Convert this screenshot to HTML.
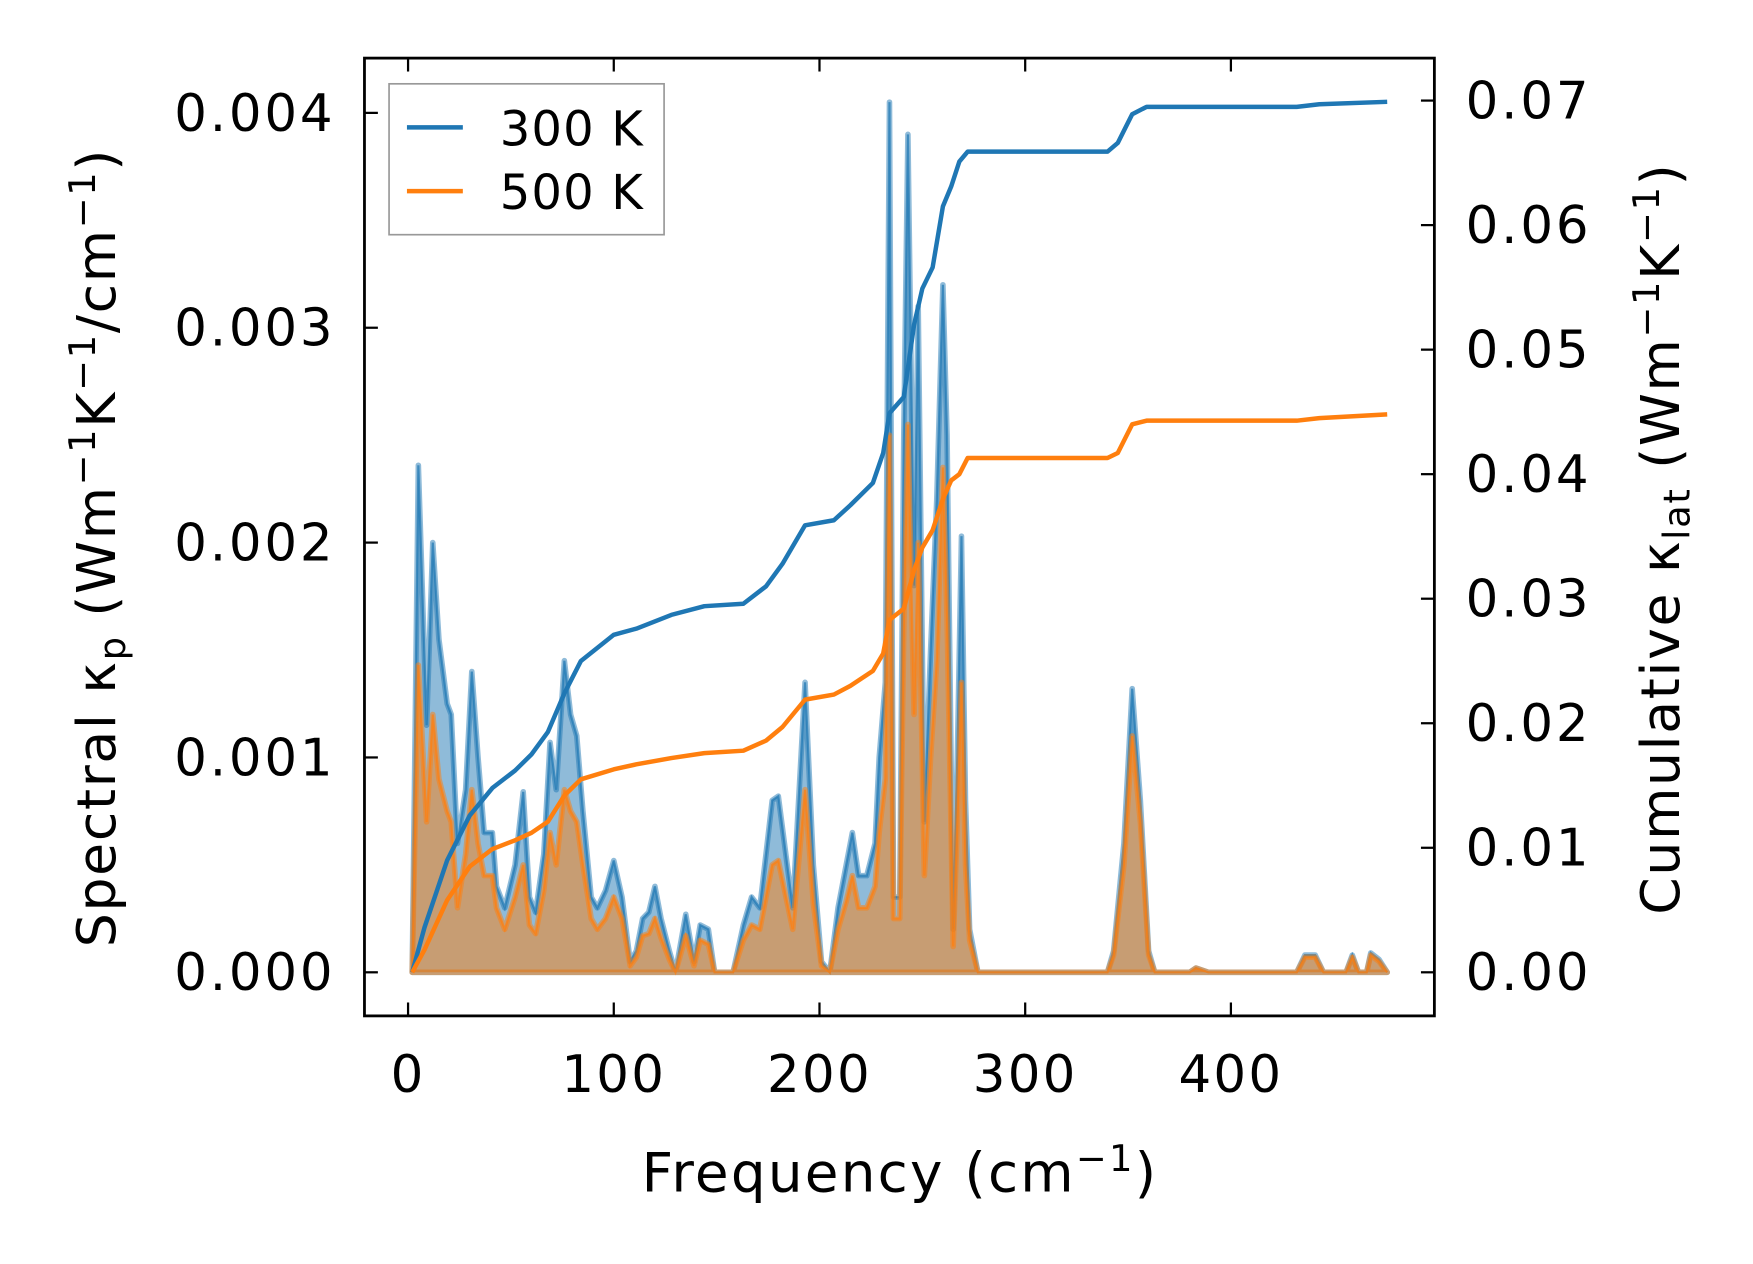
<!DOCTYPE html>
<html><head><meta charset="utf-8"><style>
html,body{margin:0;padding:0;background:#fff;}
svg{display:block;font-family:"DejaVu Sans","Liberation Sans",sans-serif;}
</style></head><body>
<svg id="chart" width="1753" height="1264" viewBox="0 0 1568 1131" preserveAspectRatio="none" xmlns="http://www.w3.org/2000/svg">
<rect width="1568" height="1131" fill="#fff"/>
<g id="plot"></g>
<rect x="326" y="52" width="957" height="857" fill="none" stroke="#000" stroke-width="2.5"/>
<g id="ticks"></g>
<text x="805" y="1066" font-size="49" letter-spacing="2" text-anchor="middle">Frequency (cm<tspan font-size="33" dy="-18">−1</tspan><tspan dy="18">)</tspan></text>
<text transform="translate(103,490) rotate(-90)" font-size="48" letter-spacing="1.5" text-anchor="middle">Spectral κ<tspan font-size="33" dy="9">p</tspan><tspan dy="-9"> (Wm</tspan><tspan font-size="33" dy="-18">−1</tspan><tspan dy="18">K</tspan><tspan font-size="33" dy="-18">−1</tspan><tspan dy="18">/cm</tspan><tspan font-size="33" dy="-18">−1</tspan><tspan dy="18">)</tspan></text>
<text transform="translate(1502,482) rotate(-90)" font-size="48" letter-spacing="1.5" text-anchor="middle">Cumulative κ<tspan font-size="33" dy="9">lat</tspan><tspan dy="-9"> (Wm</tspan><tspan font-size="33" dy="-18">−1</tspan><tspan dy="18">K</tspan><tspan font-size="33" dy="-18">−1</tspan><tspan dy="18">)</tspan></text>
<g>
<rect x="348" y="75" width="246" height="135" fill="#fff" fill-opacity="0.8" stroke="#999" stroke-width="1.5"/>
<line x1="364" y1="114" x2="414" y2="114" stroke="#1f77b4" stroke-width="4"/>
<text x="447" y="130" font-size="43" letter-spacing="1">300 K</text>
<line x1="364" y1="171" x2="414" y2="171" stroke="#ff7f0e" stroke-width="4"/>
<text x="447" y="187" font-size="43" letter-spacing="1">500 K</text>
</g>
</svg>
<script>
const freq = [2,5,9,12,15,19,21,24,28,31,34,37,41,43,47,52,56,59,62,66,69,72,76,79,82,85,89,92,96,100,104,108,111,114,117,120,123,127,130,135,139,142,146,149,158,163,167,171,177,180,187,193,197,201,205,209,213,216,219,223,227,229,232,234,236,239,241,243,246,248,251,254,257,260,262,265,267,269,271,273,277,340,343,348,352,356,360,363,380,383,389,432,436,441,445,456,459,462,466,468,472,476];
const spec300 = [0,2.36,1.15,2.0,1.55,1.25,1.2,0.6,0.85,1.4,1.0,0.65,0.65,0.4,0.3,0.5,0.84,0.35,0.28,0.55,1.07,0.85,1.45,1.2,1.1,0.75,0.35,0.3,0.38,0.52,0.35,0.05,0.1,0.25,0.28,0.4,0.25,0.1,0,0.27,0.05,0.22,0.2,0,0,0.22,0.35,0.3,0.8,0.82,0.3,1.35,0.5,0.05,0,0.3,0.5,0.65,0.45,0.45,0.6,1.0,1.35,4.05,0.35,0.35,2.5,3.9,1.8,3.1,0.7,1.5,2.2,3.2,2.5,0.2,1.0,2.03,0.8,0.2,0,0,0.1,0.6,1.32,0.8,0.1,0,0,0.02,0,0,0.08,0.08,0,0,0.08,0,0,0.09,0.06,0];
const spec500 = [0,1.43,0.7,1.2,0.9,0.75,0.7,0.3,0.55,0.85,0.6,0.45,0.45,0.3,0.2,0.35,0.5,0.22,0.18,0.38,0.65,0.5,0.85,0.75,0.7,0.5,0.25,0.2,0.25,0.35,0.25,0.03,0.07,0.17,0.18,0.25,0.16,0.06,0,0.17,0.03,0.15,0.13,0,0,0.15,0.22,0.2,0.5,0.52,0.2,0.85,0.32,0.03,0,0.2,0.33,0.45,0.3,0.3,0.4,0.65,0.9,2.5,0.25,0.25,1.6,2.55,1.2,2.0,0.45,1.0,1.45,2.35,1.65,0.12,0.7,1.35,0.5,0.15,0,0,0.08,0.5,1.1,0.7,0.08,0,0,0.02,0,0,0.07,0.07,0,0,0.07,0,0,0.08,0.05,0];
const cumFreq = [2,8,19,30,41,52,60,68,76,84,100,111,128,144,163,174,182,193,207,215,226,231,234,241,246,250,255,260,264,268,272,340,345,352,359,432,443,476];
const cum300 = [0,0.0036,0.009,0.0126,0.0148,0.0162,0.0175,0.0193,0.0224,0.025,0.0271,0.0276,0.0287,0.0294,0.0296,0.031,0.0328,0.0359,0.0363,0.0375,0.0393,0.0417,0.0449,0.0462,0.052,0.0549,0.0566,0.0615,0.0631,0.0651,0.0659,0.0659,0.0666,0.0689,0.0695,0.0695,0.0697,0.0699];
const cum500 = [0,0.0018,0.0058,0.0085,0.0099,0.0106,0.0112,0.0121,0.0142,0.0155,0.0163,0.0167,0.0172,0.0176,0.0178,0.0186,0.0197,0.0219,0.0223,0.023,0.0242,0.0256,0.0283,0.0292,0.0323,0.0341,0.0355,0.038,0.0395,0.04,0.0413,0.0413,0.0417,0.044,0.0443,0.0443,0.0445,0.0448];
const xTicks = [0,100,200,300,400];
const yLeftTicks = [0,0.001,0.002,0.003,0.004];
const yLeftLabels = ["0.000","0.001","0.002","0.003","0.004"];
const yRightTicks = [0,0.01,0.02,0.03,0.04,0.05,0.06,0.07];
const yRightLabels = ["0.00","0.01","0.02","0.03","0.04","0.05","0.06","0.07"];

const NS="http://www.w3.org/2000/svg";
function X(f){return 365+f*1.84;}
function YL(v){return 870-v*192250;}
function YR(v){return 870-v*11143;}
const plot=document.getElementById('plot');
const ticks=document.getElementById('ticks');
function mk(tag,attrs,parent){const e=document.createElementNS(NS,tag);for(const k in attrs)e.setAttribute(k,attrs[k]);parent.appendChild(e);return e;}

function drawSpec(vals,color,name){
  let pts=freq.map((f,i)=>X(f).toFixed(1)+','+YL(vals[i]*0.001).toFixed(1));
  const area=mk('path',{d:'M'+X(freq[0])+','+YL(0)+' L'+pts.join(' L')+' L'+X(freq[freq.length-1])+','+YL(0)+' Z',fill:color,'fill-opacity':0.5,stroke:color,'stroke-opacity':0.5,'stroke-width':5,'stroke-linejoin':'round'},plot);
  
  
  const ln=mk('path',{d:'M'+pts.join(' L'),fill:'none',stroke:color,'stroke-opacity':0.7,'stroke-width':2},plot);
  
  
}
drawSpec(spec300,'#1f77b4','300k');
drawSpec(spec500,'#ff7f0e','500k');
function drawCum(vals,color,name){
  const pts=cumFreq.map((f,i)=>X(f).toFixed(1)+','+YR(vals[i]).toFixed(1));
  const ln=mk('path',{d:'M'+pts.join(' L'),fill:'none',stroke:color,'stroke-width':4,'stroke-linejoin':'round'},plot);
  
  
}
drawCum(cum300,'#1f77b4','300k');
drawCum(cum500,'#ff7f0e','500k');

xTicks.forEach(t=>{
  const x=X(t);
  mk('line',{x1:x,y1:909,x2:x,y2:897,stroke:'#000','stroke-width':2},ticks);
  mk('line',{x1:x,y1:52,x2:x,y2:64,stroke:'#000','stroke-width':2},ticks);
  const tx=mk('text',{x:x,y:977,'font-size':46,'letter-spacing':2,'text-anchor':'middle'},ticks);
  tx.textContent=t;
  
  
});
yLeftTicks.forEach((t,i)=>{
  const y=YL(t);
  mk('line',{x1:326,y1:y,x2:338,y2:y,stroke:'#000','stroke-width':2},ticks);
  const tx=mk('text',{x:300,y:y+16,'font-size':46,'letter-spacing':2.5,'text-anchor':'end'},ticks);
  tx.textContent=yLeftLabels[i];
  
  
});
yRightTicks.forEach((t,i)=>{
  const y=YR(t);
  mk('line',{x1:1283,y1:y,x2:1271,y2:y,stroke:'#000','stroke-width':2},ticks);
  const tx=mk('text',{x:1311,y:y+16,'font-size':46,'letter-spacing':2.5,'text-anchor':'start'},ticks);
  tx.textContent=yRightLabels[i];
  
  
});
</script>
</body></html>
